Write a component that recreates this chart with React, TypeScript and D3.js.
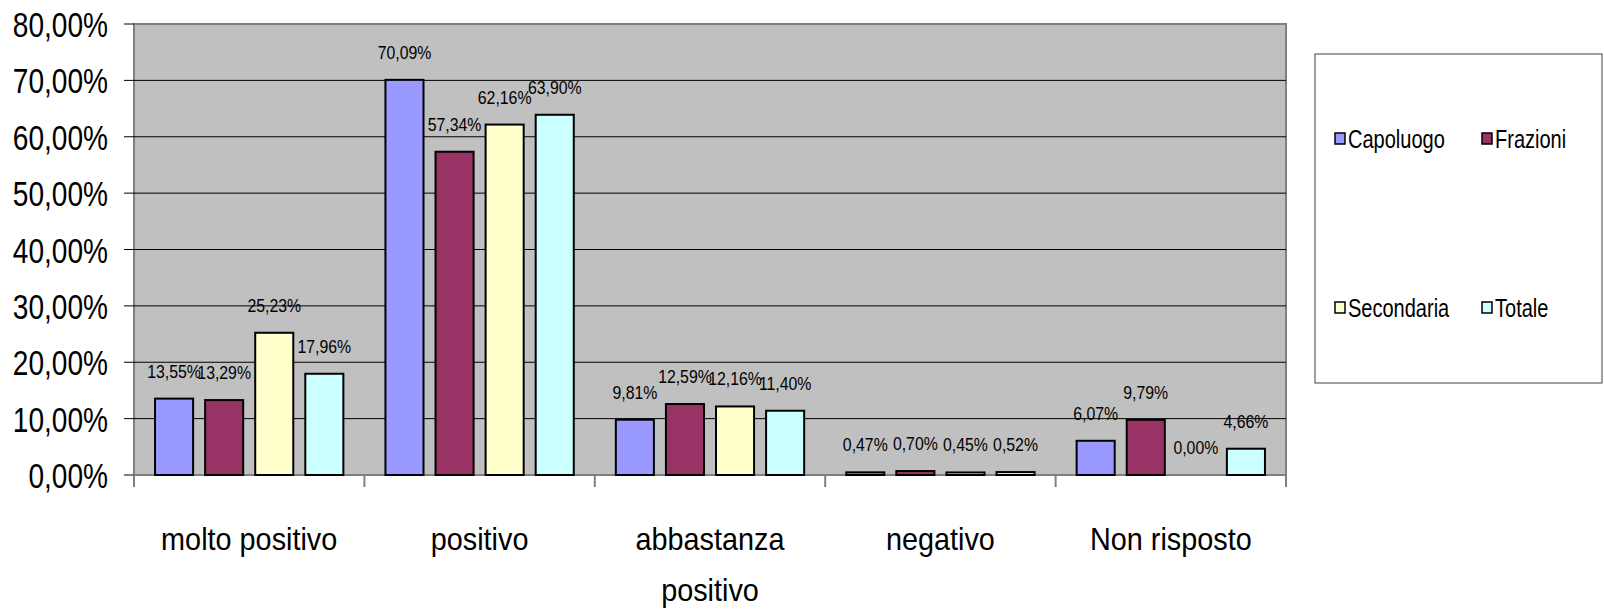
import * as d3 from "d3";

// categories (second line where the label wraps)
const categories = ["molto positivo", "positivo", "abbastanza positivo", "negativo", "Non risposto"];
const categoryLines = [["molto positivo"], ["positivo"], ["abbastanza", "positivo"], ["negativo"], ["Non risposto"]];

const seriesNames = ["Capoluogo", "Frazioni", "Secondaria", "Totale"];
const seriesColors = ["#9999FF", "#993366", "#FFFFCC", "#CCFFFF"];

// percent values per series
const capoluogo = [13.55, 70.09, 9.81, 0.47, 6.07];
const frazioni = [13.29, 57.34, 12.59, 0.7, 9.79];
const secondaria = [25.23, 62.16, 12.16, 0.45, 0.0];
const totale = [17.96, 63.9, 11.4, 0.52, 4.66];

const yTicks = [0, 10, 20, 30, 40, 50, 60, 70, 80];

const FONT = "'Liberation Sans', Arial, sans-serif";

export default function App() {
  const width = 1604;
  const height = 610;
  const plot = { left: 134, right: 1286, top: 24, bottom: 475 };

  const seriesValues = [capoluogo, frazioni, secondaria, totale];

  const x = d3.scaleBand<string>().domain(categories).range([plot.left, plot.right]).padding(0);
  const xs = d3
    .scaleBand<string>()
    .domain(seriesNames)
    .range([0, x.bandwidth()])
    .paddingInner(0.24)
    .paddingOuter(0.42);
  const y = d3.scaleLinear().domain([0, 80]).range([plot.bottom, plot.top]);

  const fmt = (v: number) => v.toFixed(2).replace(".", ",") + "%";

  return (
    <svg
      width={width}
      height={height}
      style={{ position: "absolute", left: 0, top: 0, background: "#fff" }}
      fontFamily={FONT}
    >
      {/* plot area */}
      <rect
        x={plot.left}
        y={plot.top}
        width={plot.right - plot.left}
        height={plot.bottom - plot.top}
        fill="#C0C0C0"
        stroke="#808080"
        strokeWidth={2}
      />
      {/* gridlines + y ticks */}
      {yTicks.map((t) => (
        <g key={t}>
          {t > 0 && t < 80 && (
            <line x1={plot.left} x2={plot.right} y1={y(t)} y2={y(t)} stroke="#000" strokeWidth={1} />
          )}
          <line x1={plot.left - 10} x2={plot.left} y1={y(t)} y2={y(t)} stroke="#000" strokeWidth={1} />
          <text
            transform={`translate(108,${y(t) + 13}) scale(0.78,1)`}
            textAnchor="end"
            fontSize={36}
            fill="#000"
          >
            {fmt(t)}
          </text>
        </g>
      ))}
      {/* x axis line and category ticks */}
      <line x1={plot.left} x2={plot.right} y1={plot.bottom} y2={plot.bottom} stroke="#808080" strokeWidth={2} />
      {d3.range(categories.length + 1).map((i) => {
        const cx = plot.left + i * x.step();
        return <line key={i} x1={cx} x2={cx} y1={plot.bottom} y2={plot.bottom + 12} stroke="#808080" strokeWidth={2} />;
      })}
      {/* bars */}
      {categories.map((c, ci) => (
        <g key={c}>
          {seriesNames.map((s, si) => {
            const v = seriesValues[si][ci];
            const bx = (x(c) as number) + (xs(s) as number);
            const by = y(v);
            return (
              <g key={s}>
                {v > 0 && (
                  <rect
                    x={bx}
                    y={by}
                    width={xs.bandwidth()}
                    height={plot.bottom - by}
                    fill={seriesColors[si]}
                    stroke="#000"
                    strokeWidth={2}
                  />
                )}
                <text
                  transform={`translate(${bx + xs.bandwidth() / 2},${by - 21}) scale(0.88,1)`}
                  textAnchor="middle"
                  fontSize={18}
                  fill="#000"
                >
                  {fmt(v)}
                </text>
              </g>
            );
          })}
        </g>
      ))}
      {/* category labels */}
      {categories.map((c, ci) => (
        <g key={c}>
          {categoryLines[ci].map((line, li) => (
            <text
              key={li}
              transform={`translate(${(x(c) as number) + x.bandwidth() / 2},${550 + li * 51}) scale(0.93,1)`}
              textAnchor="middle"
              fontSize={31}
              fill="#000"
            >
              {line}
            </text>
          ))}
        </g>
      ))}
      {/* legend */}
      <rect x={1315} y={54} width={287} height={329} fill="#fff" stroke="#404040" strokeWidth={1} />
      {seriesNames.map((s, si) => {
        const lx = si % 2 === 0 ? 1335 : 1482;
        const ly = si < 2 ? 148 : 317;
        return (
          <g key={s}>
            <rect x={lx} y={ly - 15} width={10} height={11} fill={seriesColors[si]} stroke="#000" strokeWidth={1.5} />
            <text transform={`translate(${lx + 13},${ly}) scale(0.77,1)`} fontSize={26} fill="#000">
              {s}
            </text>
          </g>
        );
      })}
    </svg>
  );
}
